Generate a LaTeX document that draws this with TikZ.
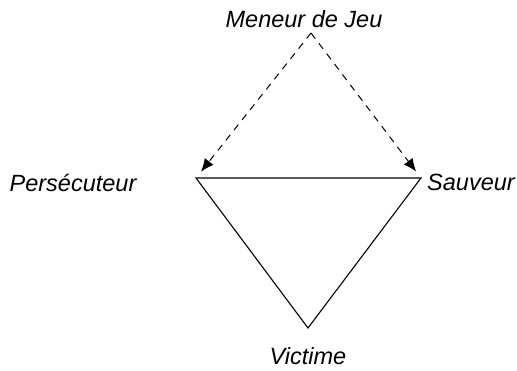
\documentclass[tikz,border=0pt]{standalone}
\usepackage{fontspec}
\setmainfont{Liberation Sans}
\usetikzlibrary{arrows.meta}

\begin{document}
\begin{tikzpicture}[>={Latex[length=13pt,width=11pt]}, x=1pt, y=-1pt,
    role/.style={font=\fontsize{23.5}{27}\selectfont\itshape, inner sep=0pt, anchor=base},
    side/.style={line width=1.1pt},
    pull/.style={line width=1pt, dashed, dash pattern=on 7pt off 6pt, ->, shorten >=8pt}]

% --- Canvas ---
\useasboundingbox (0,0) rectangle (517,371);

% --- Triangle corners ---
\coordinate (P) at (196,178);
\coordinate (S) at (421,178);
\coordinate (V) at (308,328);
\coordinate (J) at (311,33);

% --- Roles ---
\node[role] (meneur)  at (304,28)  {Meneur de Jeu};
\node[role] (persec)  at (73,192)  {Persécuteur};
\node[role] (sauveur) at (471,191) {Sauveur};
\node[role] (victime) at (308,365) {Victime};

% --- Drama triangle ---
\draw[side, line join=miter] (P) -- (S) -- (V) -- cycle;

% --- Influence of the game leader ---
\draw[pull] (J) -- (P);
\draw[pull] (J) -- (S);

\end{tikzpicture}
\end{document}
